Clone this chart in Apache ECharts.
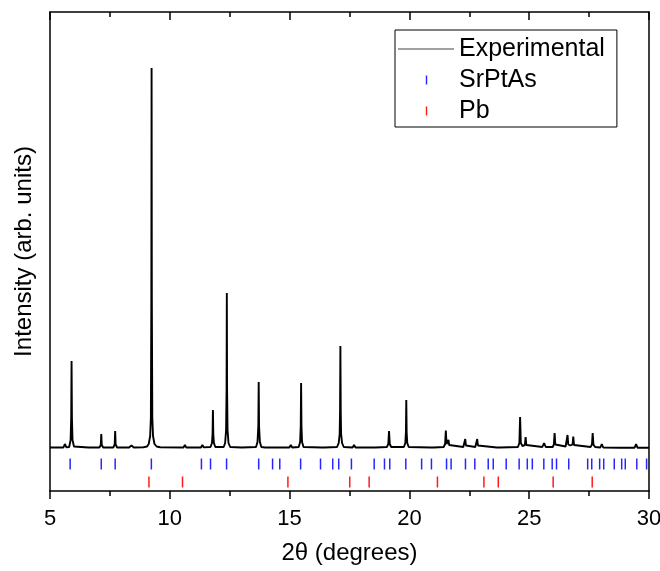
<!DOCTYPE html>
<html>
<head>
<meta charset="UTF-8">
<title>xrd</title>
<script src="https://cdn.jsdelivr.net/npm/echarts@6/dist/echarts.min.js"></script>
<style>
	html, body { margin: 0; padding: 0; background: #fff; }
	#chart { width: 660px; height: 571px; }
</style>
</head>
<body>
<div id="chart"></div>
<script>
// measured pattern, 2theta (deg) and intensity above background (arb. units)
var expTheta = [
	5.00, 5.40, 5.56, 5.62, 5.68, 5.80, 5.86, 5.885, 5.90, 5.915, 5.94, 6.00, 6.60,
	7.06, 7.12, 7.14, 7.16, 7.22, 7.64, 7.70, 7.72, 7.74, 7.80, 8.30, 8.40, 8.50,
	8.90, 9.05, 9.12, 9.18, 9.21, 9.23, 9.24, 9.25, 9.27, 9.30, 9.36, 9.45, 9.60,
	10.57, 10.63, 10.69, 11.30, 11.36, 11.42,
	11.70, 11.76, 11.785, 11.80, 11.815, 11.84, 11.90,
	12.25, 12.31, 12.35, 12.37, 12.38, 12.39, 12.41, 12.45, 12.52, 13.00,
	13.60, 13.66, 13.695, 13.71, 13.725, 13.76, 13.82,
	13.98, 14.04, 14.10, 14.22, 14.28, 14.34, 14.57, 14.63, 14.69, 14.99, 15.05, 15.11,
	15.38, 15.44, 15.465, 15.48, 15.495, 15.52, 15.58,
	16.34, 16.40, 16.46,
	16.98, 17.05, 17.09, 17.105, 17.12, 17.135, 17.15, 17.19, 17.26,
	17.63, 17.69, 17.75, 18.46, 18.52, 18.58,
	19.06, 19.12, 19.15, 19.18, 19.24,
	19.77, 19.83, 19.855, 19.87, 19.885, 19.91, 19.97,
	20.90, 20.96, 21.02,
	21.43, 21.49, 21.52, 21.55, 21.59, 21.63, 21.66, 21.74,
	22.25, 22.30, 22.33, 22.36, 22.42, 22.75, 22.80, 22.83, 22.86, 22.92,
	23.65, 23.71, 23.77,
	24.53, 24.59, 24.62, 24.65, 24.72, 24.82, 24.85, 24.88, 24.96,
	25.55, 25.62, 25.69, 25.98, 26.03, 26.06, 26.09, 26.15,
	26.52, 26.57, 26.60, 26.63, 26.72, 26.81, 26.84, 26.87, 26.95,
	27.56, 27.62, 27.65, 27.68, 27.75, 27.97, 28.03, 28.09, 28.80,
	29.40, 29.46, 29.52, 30.00
];
var expIntensity = [
	0.5, 0.5, 0.5, 4, 0.8, 1, 8, 30, 87, 30, 8, 1.5, 0.5,
	0.5, 3, 14, 3, 0.5, 0.5, 3.5, 17, 3.5, 0.5, 0.5, 2.5, 0.5,
	0.8, 1.5, 4, 12, 30, 150, 380, 150, 30, 12, 4, 1.5, 0.8,
	0.5, 3, 0.5, 0.5, 3, 0.6,
	1, 5, 14, 38, 14, 5, 1,
	1, 5, 18, 60, 155, 60, 18, 5, 1, 0.5,
	1, 6, 22, 66, 22, 6, 1,
	0.5, 2.5, 0.5, 0.5, 2.5, 0.5, 0.5, 2.5, 0.5, 0.5, 3, 0.5,
	1, 6, 22, 65, 22, 6, 1,
	0.5, 1.5, 0.5,
	1, 5, 14, 35, 102, 35, 14, 5, 1,
	0.5, 3, 0.5, 0.5, 1.5, 0.5,
	1, 4, 17, 4, 1,
	1, 5, 16, 48, 16, 5, 1,
	0.5, 1.5, 0.5,
	1, 4, 17.5, 4, 3, 8, 3, 1,
	1, 2.5, 9, 2.5, 1, 1, 2.5, 9, 2.5, 1,
	0.5, 2.5, 0.5,
	1, 5, 31, 5, 2, 3, 11, 3, 1,
	1, 5, 1, 1, 3.5, 15, 3.5, 1.5,
	1.5, 3.5, 13, 3.5, 2.5, 3.5, 11.5, 3, 1,
	1, 3.5, 15, 3.5, 1, 0.5, 4, 0.5, 0.3,
	0.3, 4, 0.3, 0.3
];

// calculated reflection positions (2theta, deg)
var srptasPos = [
	5.84, 7.14, 7.72, 9.23, 11.32, 11.70, 12.37, 13.71, 14.29, 14.59, 15.46, 16.29,
	16.80, 17.05, 17.58, 18.53, 18.96, 19.18, 19.85, 20.51, 20.92, 21.55, 21.74,
	22.34, 22.73, 23.29, 23.50, 24.04, 24.58, 24.92, 25.13, 25.61, 25.96, 26.14,
	26.65, 27.44, 27.61, 27.94, 28.11, 28.55, 28.86, 29.01, 29.49, 29.90
];
var pbPos = [9.13, 10.53, 14.93, 17.51, 18.32, 21.17, 23.11, 23.71, 26.00, 27.63];

// vertical placement of the tick rows (below the background line)
var srptasRow = -16;
var pbRow = -34;

var xTicks = [5, 10, 15, 20, 25, 30];
var seriesNames = ['Experimental', 'SrPtAs', 'Pb'];

var expData = [];
for (var i = 0; i < expTheta.length; i++) {
	expData.push([expTheta[i], expIntensity[i]]);
}
var srptasData = srptasPos.map(function (v) { return [v, srptasRow]; });
var pbData = pbPos.map(function (v) { return [v, pbRow]; });

var font = 'Liberation Sans, Arial, Helvetica, sans-serif';
var black = '#000';
// legend icons: the first two moves pin the box so the mark keeps its size
var lineIcon = 'path://M0,0M56,12M0,5.5L56,5.5L56,6.6L0,6.6Z';
var tickIcon = 'path://M0,0M56,12M27.8,1.5L29.2,1.5L29.2,10.5L27.8,10.5Z';

var chart = echarts.init(document.getElementById('chart'), null, { renderer: 'canvas' });
var option = {
	animation: false,
	backgroundColor: '#fff',
	textStyle: { fontFamily: font, color: black },
	grid: { left: 50, right: 11, top: 12, bottom: 80, outerBoundsMode: 'none' },
	legend: {
		orient: 'vertical',
		left: 395,
		top: 30,
		padding: [5, 12, 2, 3],
		itemGap: 3,
		itemWidth: 56,
		itemHeight: 12,
		selectedMode: false,
		borderColor: black,
		borderWidth: 1,
		borderRadius: 0,
		textStyle: { fontFamily: font, fontSize: 25, lineHeight: 28, color: black },
		data: [
			{ name: seriesNames[0], icon: lineIcon, itemStyle: { color: '#444' } },
			{ name: seriesNames[1], icon: tickIcon, itemStyle: { color: '#0000ff' } },
			{ name: seriesNames[2], icon: tickIcon, itemStyle: { color: '#ff0000' } }
		]
	},
	xAxis: [{
		type: 'value',
		position: 'bottom',
		min: xTicks[0],
		max: xTicks[xTicks.length - 1],
		interval: 5,
		name: '2\u03b8 (degrees)',
		nameLocation: 'middle',
		nameGap: 50,
		nameTextStyle: { fontFamily: font, fontSize: 24, color: black },
		axisLine: { show: true, onZero: false, lineStyle: { color: black, width: 1.5 } },
		axisTick: { show: true, inside: false, length: 8, lineStyle: { color: black, width: 1.5 } },
		minorTick: { show: true, splitNumber: 2, length: 5, lineStyle: { color: black, width: 1.5 } },
		axisLabel: { fontFamily: font, fontSize: 22, color: black, margin: 17 },
		splitLine: { show: false }
	}, {
		type: 'value',
		position: 'top',
		min: xTicks[0],
		max: xTicks[xTicks.length - 1],
		interval: 5,
		axisLine: { show: true, onZero: false, lineStyle: { color: black, width: 1.5 } },
		axisTick: { show: true, inside: true, length: 8, lineStyle: { color: black, width: 1.5 } },
		minorTick: { show: true, splitNumber: 2, length: 5, lineStyle: { color: black, width: 1.5 } },
		axisLabel: { show: false },
		splitLine: { show: false }
	}],
	yAxis: [{
		type: 'value',
		position: 'left',
		min: -43,
		max: 436,
		name: 'Intensity (arb. units)',
		nameLocation: 'middle',
		nameGap: 14,
		nameTextStyle: { fontFamily: font, fontSize: 24, color: black },
		axisLine: { show: true, onZero: false, lineStyle: { color: black, width: 1.5 } },
		axisTick: { show: false },
		axisLabel: { show: false },
		splitLine: { show: false }
	}, {
		type: 'value',
		position: 'right',
		min: -43,
		max: 436,
		axisLine: { show: true, onZero: false, lineStyle: { color: black, width: 1.5 } },
		axisTick: { show: false },
		axisLabel: { show: false },
		splitLine: { show: false }
	}],
	series: [{
		name: seriesNames[0],
		type: 'line',
		data: expData,
		showSymbol: false,
		symbol: 'none',
		lineStyle: { color: black, width: 1.9 },
		itemStyle: { color: black },
		emphasis: { disabled: true },
		z: 3
	}, {
		name: seriesNames[1],
		type: 'scatter',
		data: srptasData,
		symbol: 'rect',
		symbolSize: [1.5, 11],
		itemStyle: { color: '#0000ff', opacity: 0.85 },
		emphasis: { disabled: true },
		z: 2
	}, {
		name: seriesNames[2],
		type: 'scatter',
		data: pbData,
		symbol: 'rect',
		symbolSize: [1.5, 11],
		itemStyle: { color: '#ff0000', opacity: 0.9 },
		emphasis: { disabled: true },
		z: 2
	}]
};
chart.setOption(option);
</script>
</body>
</html>
